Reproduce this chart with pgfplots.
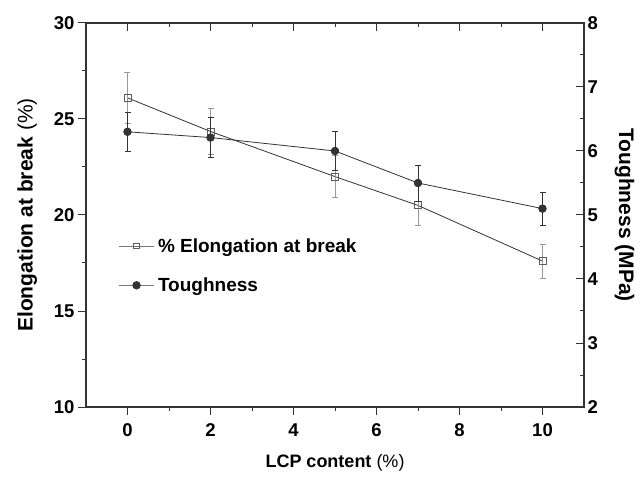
\documentclass[border=0pt]{standalone}
\usepackage{pgfplots}
\pgfplotsset{compat=1.18}
\usepackage{fontspec}
\setmainfont{Liberation Sans}
\definecolor{ln}{HTML}{333333}
\definecolor{eb}{HTML}{999999}
\definecolor{lg}{HTML}{777777}
\begin{document}
\begin{tikzpicture}
\pgfplotsset{
 every axis/.append style={
 scale only axis, width=498pt, height=384pt, xmin=-1, xmax=11,
 axis line style={line width=1.2pt, ln},
 major tick length=8pt, minor tick length=4pt,
 every tick/.style={ln, line width=1pt},
 tick label style={font=\fontsize{18.5}{21}\selectfont\bfseries},
 /pgf/number format/assume math mode=true,
 }
}
\begin{axis}[
 ymin=10, ymax=30, ytick={10,15,...,30}, minor y tick num=1,
 xtick={0,2,...,10}, minor x tick num=1,
 xtick pos=left, ytick pos=left, tick align=outside,
 xticklabel style={yshift=-5pt},
 xlabel={\textbf{LCP content} (\%)},
 xlabel style={font=\fontsize{18}{21}\selectfont},
 xlabel shift=11pt,
 ylabel={\textbf{Elongation at break} (\%)},
 ylabel style={font=\fontsize{21}{24}\selectfont},
 ylabel shift=10pt,
]
\addplot[ln, line width=0.8pt, mark=square, mark size=3.5pt, mark options={fill=white, draw=ln!80, line width=0.8pt},
 error bars/.cd, y dir=both, y explicit,
 error bar style={eb, line width=0.8pt},
 error mark options={rotate=90, eb, mark size=3pt, line width=0.8pt}]
 table[x=x, y=y, y error=e] {
 x y e
 0 26.1 1.33
 2 24.35 1.2
 5 22.0 1.1
 7 20.5 1.05
 10 17.6 0.88
 };
\end{axis}
\begin{axis}[
 ymin=2, ymax=8, ytick={2,...,8}, minor y tick num=1,
 xtick={0,2,...,10}, minor x tick num=1, xticklabels={},
 xtick pos=right, ytick pos=right, tick align=inside, yticklabel pos=right,
 ylabel={\textbf{Toughness (MPa)}}, ylabel style={rotate=180, font=\fontsize{21}{24}\selectfont},
 ylabel shift=10pt,
 legend style={at={(axis description cs:0.06,0.45)}, anchor=north west, draw=none, fill=none,
   font=\fontsize{19}{22}\selectfont\bfseries, row sep=20pt, legend cell align=left,
   nodes={inner xsep=4pt}},
 legend image code/.code={\draw[lg, line width=0.8pt] (0cm,0cm) -- (1.2cm,0cm); \draw[#1, mark repeat=2, mark phase=2, draw=none] plot coordinates {(0cm,0cm) (0.6cm,0cm) (1.2cm,0cm)};},
]
\addlegendimage{ln, line width=0.8pt, mark=square, mark size=2.8pt, mark options={fill=white, draw=ln!80, line width=0.8pt}}
\addlegendentry{\% Elongation at break}
\addplot[ln, line width=0.8pt, mark=*, mark size=3.8pt, mark options={fill=ln, draw=ln},
 error bars/.cd, y dir=both, y explicit,
 error bar style={ln, line width=0.8pt},
 error mark options={rotate=90, ln, mark size=3pt, line width=0.8pt}]
 table[x=x, y=y, y error=e] {
 x y e
 0 6.30 0.30
 2 6.21 0.31
 5 6.0 0.30
 7 5.5 0.28
 10 5.10 0.26
 };
\addlegendentry{Toughness}
\end{axis}
\pgfresetboundingbox
\path ([shift={(-86pt,-69pt)}]current axis.south west) rectangle ([shift={(57pt,23pt)}]current axis.north east);
\end{tikzpicture}
\end{document}
